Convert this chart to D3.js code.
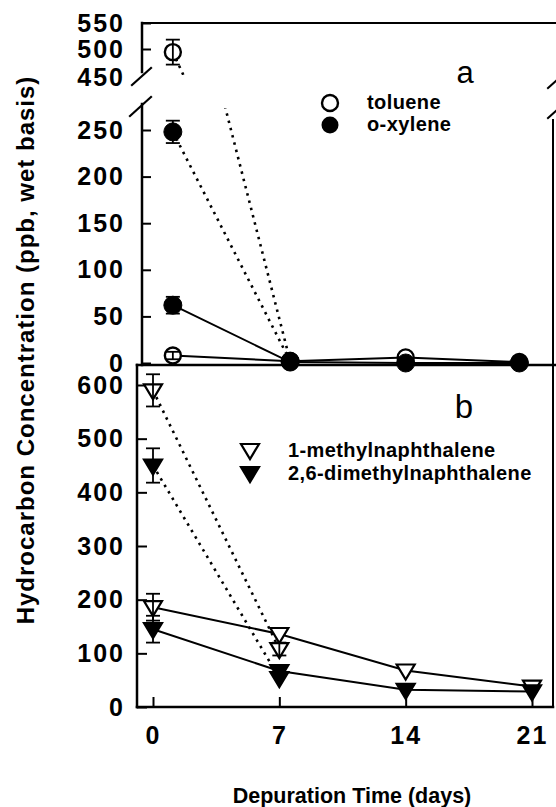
<!DOCTYPE html>
<html>
<head>
<meta charset="utf-8">
<script src="https://cdn.jsdelivr.net/npm/d3@7"></script>
<style>
  html, body { margin: 0; padding: 0; background: #fff; }
  svg { display: block; }
  text { font-family: "Liberation Sans", Arial, Helvetica, sans-serif; fill: #000; }
</style>
</head>
<body>
<svg id="chart" width="556" height="807"></svg>
<script>
// ---- Panel a: monoaromatics (broken y axis) ----
const daysA = [1.1, 7.6, 14, 20.3];
const tolueneLow = [8, 2, 6, 1];
const tolueneLowErr = [4, 0, 0, 0];
const xyleneLow = [62, 1, 0, 0];
const xyleneLowErr = [9, 0, 0, 0];
const daysAHigh = [1.1, 7.6];
const tolueneHigh = [494, 2];
const tolueneHighErr = [24, 0];
const xyleneHigh = [248, 2];
const xyleneHighErr = [12, 0];
const ticksAUpper = [450, 500, 550];
const ticksALower = [0, 50, 100, 150, 200, 250];

// ---- Panel b: naphthalenes ----
const daysB = [0, 7, 14, 21];
const mnLow = [186, 136, 68, 38];
const mnLowErr = [25, 0, 0, 0];
const dmnLow = [145, 67, 32, 29];
const dmnLowErr = [25, 0, 0, 0];
const daysBHigh = [0, 7];
const mnHigh = [590, 108];
const mnHighErr = [30, 12];
const dmnHigh = [450, 54];
const dmnHighErr = [32, 0];
const ticksB = [0, 100, 200, 300, 400, 500, 600];
const ticksX = [0, 7, 14, 21];

const svg = d3.select("#chart");

// shared day scale
const x = d3.scaleLinear().domain([0, 21]).range([153, 532]);

// panel a scales
const yUp = d3.scaleLinear().domain([450, 550]).range([75, 23]);
const yLow = d3.scaleLinear().domain([0, 250]).range([363, 130]);
// panel b scale
const yB = d3.scaleLinear().domain([0, 600]).range([707, 385]);

const axA = 142, axB = 137, rightX = 553;
const lowTop = 104, sepY = 365;
const labelEnd = 125;

// clip regions for the two halves of the broken axis
const defs = svg.append("defs");
defs.append("clipPath").attr("id", "clipUp")
  .append("rect").attr("x", axA).attr("y", 23).attr("width", rightX - axA).attr("height", 75 - 23);
defs.append("clipPath").attr("id", "clipLow")
  .append("rect").attr("x", axA).attr("y", lowTop + 4).attr("width", rightX - axA).attr("height", sepY - lowTop - 4);

// ---- frames ----
const frame = svg.append("g").attr("stroke", "#000").attr("fill", "none").attr("stroke-linecap", "square");
frame.append("line").attr("x1", axA).attr("x2", 556).attr("y1", 23).attr("y2", 23).attr("stroke-width", 2);
frame.append("line").attr("x1", axA).attr("x2", axA).attr("y1", 23).attr("y2", 72).attr("stroke-width", 2.5);
frame.append("line").attr("x1", axA).attr("x2", axA).attr("y1", lowTop).attr("y2", sepY).attr("stroke-width", 2.5);
// break marks, left side
frame.append("line").attr("x1", 132).attr("y1", 85).attr("x2", 151).attr("y2", 68).attr("stroke-width", 2.2);
frame.append("line").attr("x1", 130).attr("y1", 116).attr("x2", 151).attr("y2", 97).attr("stroke-width", 2.2);
// break marks, right side
frame.append("line").attr("x1", 548).attr("y1", 88).attr("x2", 557).attr("y2", 80).attr("stroke-width", 2);
frame.append("line").attr("x1", 548).attr("y1", 118).attr("x2", 557).attr("y2", 110).attr("stroke-width", 2);
// right border
frame.append("line").attr("x1", rightX).attr("x2", rightX).attr("y1", 120).attr("y2", 707).attr("stroke-width", 2);
// separator between panels
frame.append("line").attr("x1", axB).attr("x2", 556).attr("y1", sepY).attr("y2", sepY).attr("stroke-width", 2.5);
// panel b left and bottom axes
frame.append("line").attr("x1", axB).attr("x2", axB).attr("y1", sepY).attr("y2", 707).attr("stroke-width", 2.5);
frame.append("line").attr("x1", axB).attr("x2", rightX).attr("y1", 707).attr("y2", 707).attr("stroke-width", 2.5);

// ---- axes (inward ticks) ----
const tickFont = { "font-family": '"Liberation Sans", Arial, sans-serif', "font-weight": "bold", "font-size": "25px", "letter-spacing": "2px" };
function styleAxis(g) {
  g.select(".domain").remove();
  g.selectAll(".tick line").attr("stroke", "#000").attr("stroke-width", 2);
  const t = g.selectAll(".tick text").attr("fill", "#000");
  Object.entries(tickFont).forEach(([k, v]) => t.style(k, v));
}

svg.append("g").attr("transform", `translate(${axA},0)`)
  .call(d3.axisLeft(yUp).tickValues(ticksAUpper.filter(d => d !== 450)).tickSize(-9).tickPadding(axA - labelEnd))
  .call(styleAxis);
// 450 label sits at the axis break, without a tick mark
const t450 = svg.append("text").attr("x", labelEnd).attr("y", yUp(450) + 2)
  .attr("text-anchor", "end").attr("dominant-baseline", "central")
  .text(ticksAUpper[0]);
Object.entries(tickFont).forEach(([k, v]) => t450.style(k, v));

svg.append("g").attr("transform", `translate(${axA},0)`)
  .call(d3.axisLeft(yLow).tickValues(ticksALower).tickSize(-9).tickPadding(axA - labelEnd))
  .call(styleAxis);

svg.append("g").attr("transform", `translate(${axB},0)`)
  .call(d3.axisLeft(yB).tickValues(ticksB).tickSize(-10).tickPadding(axB - labelEnd))
  .call(styleAxis);

svg.append("g").attr("transform", "translate(0,707)")
  .call(d3.axisBottom(x).tickValues(ticksX).tickSize(-10).tickPadding(19))
  .call(styleAxis);

// ---- helpers ----
function zip(days, vals, errs) {
  return days.map((d, i) => ({ d, v: vals[i], e: errs ? errs[i] : 0 }));
}
const lineGen = (ys) => d3.line().x(p => x(p.d)).y(p => ys(p.v));

function solid(data, ys) {
  svg.append("path").datum(data).attr("d", lineGen(ys))
    .attr("fill", "none").attr("stroke", "#000").attr("stroke-width", 2);
}
function dotted(data, ys, clip) {
  const p = svg.append("path").datum(data).attr("d", lineGen(ys))
    .attr("fill", "none").attr("stroke", "#000").attr("stroke-width", 2.6)
    .attr("stroke-dasharray", "2.5,5");
  if (clip) p.attr("clip-path", `url(#${clip})`);
}
function circles(data, ys, filled) {
  svg.append("g").selectAll("circle").data(data).join("circle")
    .attr("cx", p => x(p.d)).attr("cy", p => ys(p.v)).attr("r", filled ? 9 : 8)
    .attr("fill", filled ? "#000" : "#fff").attr("stroke", "#000").attr("stroke-width", filled ? 1 : 2.4);
}
const triPath = "M-9,-6L9,-6L0,9Z";
function triangles(data, ys, filled) {
  svg.append("g").selectAll("path").data(data).join("path")
    .attr("transform", p => `translate(${x(p.d)},${ys(p.v)})`)
    .attr("d", triPath)
    .attr("fill", filled ? "#000" : "#fff").attr("stroke", "#000").attr("stroke-width", 2.2)
    .attr("stroke-linejoin", "miter");
}
function errorBars(data, ys) {
  const g = svg.append("g").attr("stroke", "#000").attr("stroke-width", 1.8);
  data.filter(p => p.e > 0).forEach(p => {
    const cx = x(p.d), t = ys(p.v + p.e), b = ys(p.v - p.e);
    g.append("line").attr("x1", cx).attr("x2", cx).attr("y1", t).attr("y2", b);
    g.append("line").attr("x1", cx - 7).attr("x2", cx + 7).attr("y1", t).attr("y2", t);
    g.append("line").attr("x1", cx - 7).attr("x2", cx + 7).attr("y1", b).attr("y2", b);
  });
}

// ---- panel a marks ----
const tolHi = zip(daysAHigh, tolueneHigh, tolueneHighErr);
const xylHi = zip(daysAHigh, xyleneHigh, xyleneHighErr);
const tolLo = zip(daysA, tolueneLow, tolueneLowErr);
const xylLo = zip(daysA, xyleneLow, xyleneLowErr);

dotted(tolHi, yUp, "clipUp");
dotted(tolHi, yLow, "clipLow");
dotted(xylHi, yLow, "clipLow");
solid(tolLo, yLow);
solid(xylLo, yLow);

circles(tolLo, yLow, false);
circles(tolHi.slice(1), yLow, false);
circles(tolHi.slice(0, 1), yUp, false);
errorBars(tolLo, yLow);
errorBars(tolHi.slice(0, 1), yUp);
circles(xylLo, yLow, true);
circles(xylHi, yLow, true);
errorBars(xylLo, yLow);
errorBars(xylHi, yLow);

// ---- panel b marks ----
const mnHi = zip(daysBHigh, mnHigh, mnHighErr);
const dmnHi = zip(daysBHigh, dmnHigh, dmnHighErr);
const mnLo = zip(daysB, mnLow, mnLowErr);
const dmnLo = zip(daysB, dmnLow, dmnLowErr);

dotted(mnHi, yB);
dotted(dmnHi, yB);
solid(mnLo, yB);
solid(dmnLo, yB);

triangles(mnLo, yB, false);
triangles(mnHi, yB, false);
errorBars(mnLo, yB);
errorBars(mnHi, yB);
triangles(dmnLo, yB, true);
triangles(dmnHi, yB, true);
errorBars(dmnLo, yB);
errorBars(dmnHi, yB);

// ---- legends and panel letters ----
const legendFont = { "font-weight": "bold", "font-size": "20px", "letter-spacing": "0.4px" };
function legText(xp, yp, str) {
  const t = svg.append("text").attr("x", xp).attr("y", yp).text(str);
  Object.entries(legendFont).forEach(([k, v]) => t.style(k, v));
}
svg.append("circle").attr("cx", 330).attr("cy", 103).attr("r", 8).attr("fill", "#fff").attr("stroke", "#000").attr("stroke-width", 2.4);
svg.append("circle").attr("cx", 330).attr("cy", 125).attr("r", 8.5).attr("fill", "#000");
legText(367, 109, "toluene");
legText(367, 131, "o-xylene");

svg.append("path").attr("transform", "translate(250,450)").attr("d", triPath)
  .attr("fill", "#fff").attr("stroke", "#000").attr("stroke-width", 2.2);
svg.append("path").attr("transform", "translate(250,473)").attr("d", triPath)
  .attr("fill", "#000").attr("stroke", "#000").attr("stroke-width", 2.2);
legText(288, 457, "1-methylnaphthalene");
legText(288, 480, "2,6-dimethylnaphthalene");

svg.append("text").attr("x", 465).attr("y", 83).attr("text-anchor", "middle")
  .style("font-size", "31px").text("a");
svg.append("text").attr("x", 464).attr("y", 418).attr("text-anchor", "middle")
  .style("font-size", "33px").text("b");

// ---- axis titles ----
svg.append("text").attr("transform", "translate(25,350) rotate(-90)")
  .attr("text-anchor", "middle").attr("dominant-baseline", "central")
  .style("font-weight", "bold").style("font-size", "24px").style("letter-spacing", "1px")
  .text("Hydrocarbon Concentration (ppb, wet basis)");
svg.append("text").attr("x", 352).attr("y", 803).attr("text-anchor", "middle")
  .style("font-weight", "bold").style("font-size", "21.5px")
  .text("Depuration Time (days)");
</script>
</body>
</html>
